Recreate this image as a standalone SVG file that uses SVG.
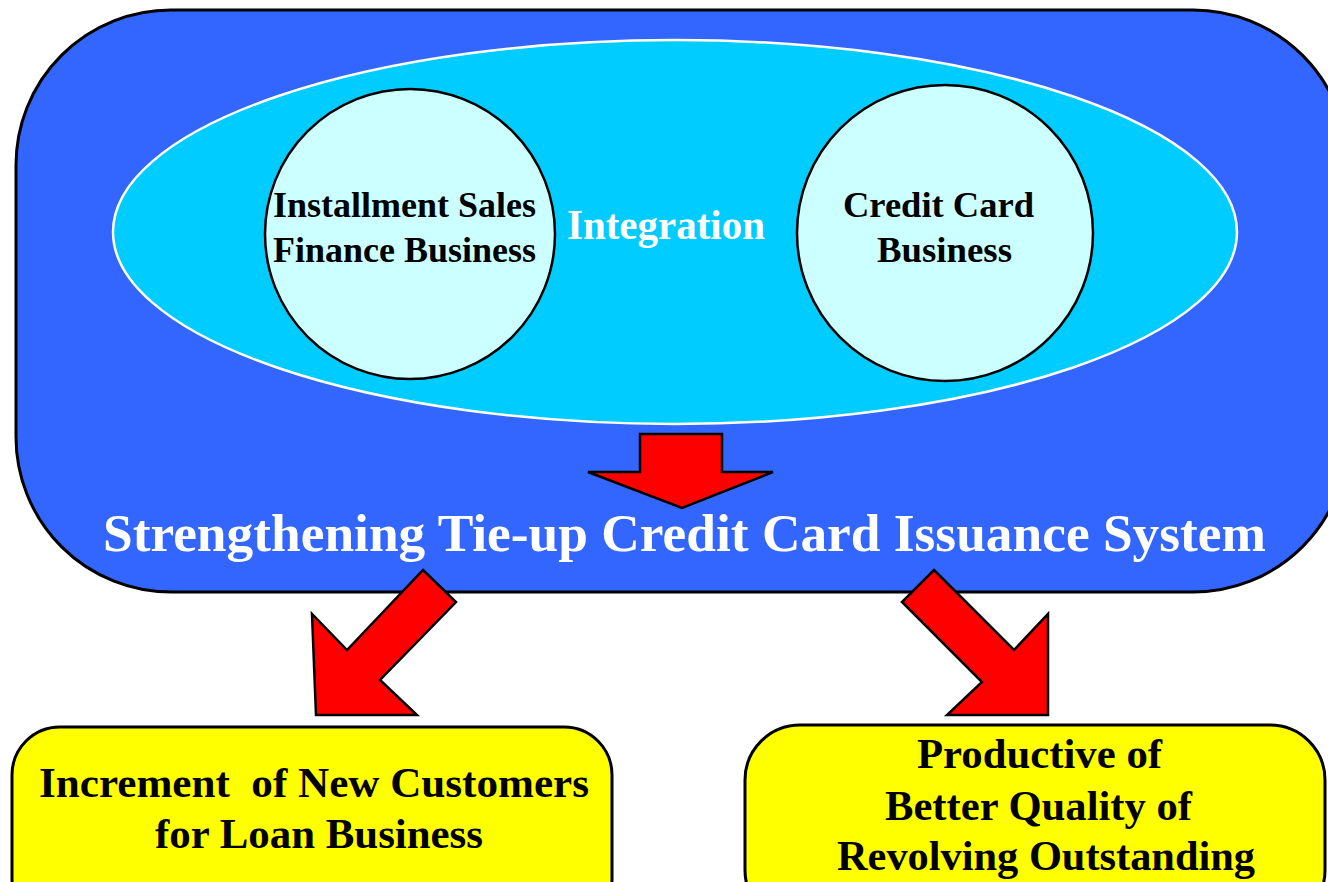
<svg xmlns="http://www.w3.org/2000/svg" width="1328" height="882" viewBox="0 0 1328 882">
<style>
.t{font-family:"Liberation Serif","Times New Roman",serif;font-weight:bold;white-space:pre}
.blk{fill:#000}
.wht{fill:#fff}
.arrow{fill:#ff0000;stroke:#000;stroke-width:2.5;stroke-linejoin:miter}
.bubble{fill:#ccffff;stroke:#000;stroke-width:2.5}
.ybox{fill:#ffff00;stroke:#000;stroke-width:3}
</style>
<rect width="1328" height="882" fill="#fff"/>
<g id="system">
<rect x="16" y="10" width="1332" height="582" rx="155" ry="155" fill="#3366ff" stroke="#000" stroke-width="3"/>
<ellipse cx="675" cy="232" rx="562" ry="192" fill="#00ccff" stroke="#fff" stroke-width="2.5"/>
<text class="t wht" x="567" y="239" font-size="42" textLength="198" lengthAdjust="spacingAndGlyphs">Integration</text>
<text class="t wht" x="103" y="551" font-size="53" textLength="1163" lengthAdjust="spacingAndGlyphs">Strengthening Tie-up Credit Card Issuance System</text>
</g>
<g id="installment">
<circle class="bubble" cx="410" cy="234" r="145"/>
<text class="t blk" x="273" y="217" font-size="36" textLength="263" lengthAdjust="spacingAndGlyphs">Installment Sales</text>
<text class="t blk" x="273" y="262" font-size="36" textLength="263" lengthAdjust="spacingAndGlyphs">Finance Business</text>
</g>
<g id="creditcard">
<circle class="bubble" cx="945" cy="233" r="148"/>
<text class="t blk" x="843" y="217" font-size="36" textLength="191" lengthAdjust="spacingAndGlyphs">Credit Card</text>
<text class="t blk" x="877" y="262" font-size="36" textLength="135" lengthAdjust="spacingAndGlyphs">Business</text>
</g>
<g id="connectors">
<polygon class="arrow" points="640,434 722,434 722,472 773,472 682,508 588,472 640,472"/>
<polygon class="arrow" points="423,570 456,602 380,680 417,715 316,715 312,614 347,650"/>
<polygon class="arrow" points="934,570 1014,650 1048,614 1048,715 947,715 982,682 902,602"/>
</g>
<g id="customers">
<rect class="ybox" x="12" y="727" width="600" height="200" rx="48" ry="48"/>
<text class="t blk" x="39" y="797" font-size="42" textLength="550" lengthAdjust="spacingAndGlyphs">Increment  of New Customers</text>
<text class="t blk" x="155" y="848" font-size="42" textLength="328" lengthAdjust="spacingAndGlyphs">for Loan Business</text>
</g>
<g id="revolving">
<rect class="ybox" x="745" y="725" width="580" height="200" rx="55" ry="55"/>
<text class="t blk" x="917" y="768" font-size="42" textLength="245" lengthAdjust="spacingAndGlyphs">Productive of</text>
<text class="t blk" x="885" y="820" font-size="42" textLength="307" lengthAdjust="spacingAndGlyphs">Better Quality of</text>
<text class="t blk" x="837" y="870" font-size="42" textLength="418" lengthAdjust="spacingAndGlyphs">Revolving Outstanding</text>
</g>
</svg>
